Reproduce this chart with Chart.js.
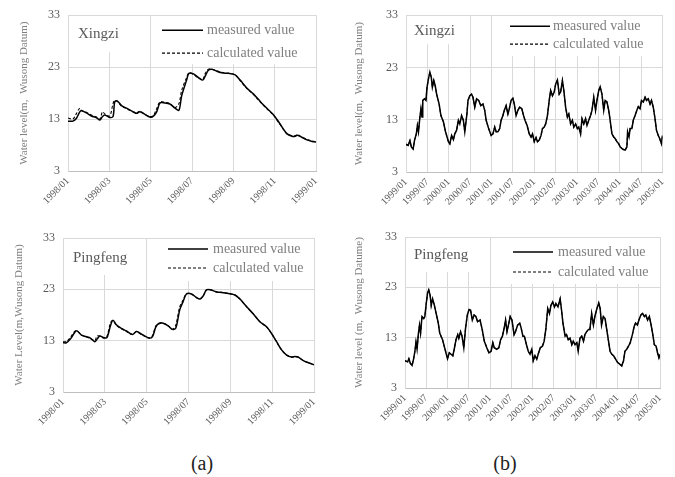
<!DOCTYPE html>
<html>
<head>
<meta charset="utf-8">
<script src="https://cdn.jsdelivr.net/npm/chart.js@4.4.1/dist/chart.umd.min.js"></script>
<style>
  body { margin: 0; background: #fff; width: 675px; height: 477px; position: relative; overflow: hidden; font-family: "Liberation Serif", serif; }
  canvas { position: absolute; }
  .cap { position: absolute; font-size: 20px; color: #222; transform: translate(-50%, -50%); }
</style>
</head>
<body>
<canvas id="xingzi98" width="330" height="218" style="left:0;top:0"></canvas>
<canvas id="xingziLong" width="340" height="218" style="left:335px;top:0"></canvas>
<canvas id="pingfeng98" width="330" height="218" style="left:0;top:220px"></canvas>
<canvas id="pingfengLong" width="340" height="218" style="left:335px;top:220px"></canvas>
<div class="cap" style="left:202px;top:463px">(a)</div>
<div class="cap" style="left:505px;top:463px">(b)</div>

<script>
// tick labels
const ticks98 = ['1998/01', '1998/03', '1998/05', '1998/07', '1998/09', '1998/11', '1999/01'];
const ticksLong = ['1999/01', '1999/07', '2000/01', '2000/07', '2001/01', '2001/07', '2002/01',
                   '2002/07', '2003/01', '2003/07', '2004/01', '2004/07', '2005/01'];
const yTicks = [3, 13, 23, 33];

// Xingzi 1998 (x = months since 1998/01)
const xingzi98Month = [0, 0.24, 0.4, 0.57, 0.65, 0.89, 1.13, 1.37, 1.54, 1.67,
  1.78, 2.02, 2.18, 2.26, 2.38, 2.59, 2.83, 3.15, 3.32, 3.48,
  3.72, 3.96, 4.12, 4.29, 4.45, 4.69, 4.93, 5.18, 5.37, 5.5,
  5.74, 5.85, 6.07, 6.31, 6.52, 6.63, 6.79, 6.95, 7.2, 7.44,
  7.76, 8.09, 8.33, 8.65, 8.98, 9.3, 9.62, 9.95, 10.27, 10.59,
  10.84, 11.0, 11.11, 11.32, 11.56, 11.81, 12];
const xingzi98Measured = [12.6, 12.6, 13.1, 14.4, 14.6, 14.2, 13.6, 13.3, 12.8, 13.5,
  13.8, 13.3, 13.5, 16.3, 16.5, 15.6, 15.1, 14.4, 14.1, 14.4,
  13.9, 13.4, 13.5, 14.4, 16.1, 16.1, 15.9, 15.1, 14.7, 17.5,
  20.5, 21.8, 21.7, 21.0, 20.5, 21.2, 22.4, 22.6, 22.2, 21.9,
  21.8, 21.5, 20.5, 19.0, 17.8, 16.4, 15.1, 13.8, 12.0, 10.2,
  9.7, 9.7, 9.9, 9.5, 9.0, 8.7, 8.6];
const xingzi98Calculated = [13.2, 13.0, 14.0, 15.1, 14.7, 14.3, 13.8, 13.4, 13.0, 14.4,
  14.0, 13.6, 16.0, 16.6, 16.4, 15.5, 15.0, 14.4, 14.2, 14.5,
  13.9, 13.5, 13.6, 15.0, 16.3, 16.2, 16.0, 15.2, 16.0, 18.5,
  21.0, 21.9, 21.6, 20.9, 20.6, 21.7, 22.6, 22.6, 22.3, 22.0,
  21.8, 21.5, 20.4, 18.9, 17.7, 16.3, 15.0, 13.7, 11.9, 10.2,
  9.8, 9.8, 10.0, 9.5, 9.1, 8.8, 8.6];

// Pingfeng 1998
const pingfeng98Month = [0, 0.16, 0.35, 0.56, 0.67, 0.88, 1.09, 1.31, 1.52, 1.63,
  1.76, 1.95, 2.1, 2.27, 2.39, 2.55, 2.79, 3.03, 3.32, 3.51,
  3.7, 3.91, 4.12, 4.28, 4.44, 4.6, 4.79, 5.03, 5.23, 5.39,
  5.58, 5.74, 5.9, 6.14, 6.38, 6.54, 6.7, 6.86, 7.05, 7.34,
  7.58, 7.9, 8.22, 8.46, 8.78, 9.1, 9.41, 9.73, 9.97, 10.21,
  10.45, 10.69, 10.93, 11.09, 11.25, 11.49, 11.73, 12];
const pingfeng98Measured = [12.6, 12.6, 13.3, 14.6, 14.9, 14.1, 13.8, 13.5, 12.8, 13.3,
  13.9, 13.6, 13.6, 15.9, 17.0, 16.1, 15.4, 14.9, 14.2, 14.8,
  14.4, 13.9, 13.5, 13.8, 15.7, 16.4, 16.4, 15.9, 15.2, 15.4,
  19.0, 20.6, 22.1, 22.1, 21.4, 21.1, 21.7, 22.9, 22.9, 22.5,
  22.4, 22.2, 21.9, 21.1, 19.6, 18.2, 16.7, 15.7, 14.4, 12.8,
  11.2, 10.2, 9.8, 9.9, 9.8, 9.1, 8.7, 8.3];
const pingfeng98Calculated = [12.8, 12.8, 13.6, 14.8, 14.9, 14.1, 13.8, 13.4, 13.0, 13.9,
  13.9, 13.5, 13.8, 16.5, 16.9, 16.0, 15.3, 14.8, 14.2, 14.8,
  14.3, 13.9, 13.5, 14.0, 15.9, 16.3, 16.4, 15.9, 15.2, 16.0,
  19.6, 20.9, 22.1, 22.1, 21.4, 21.1, 21.7, 22.9, 22.9, 22.5,
  22.4, 22.2, 21.9, 21.1, 19.6, 18.2, 16.7, 15.7, 14.4, 12.8,
  11.2, 10.2, 9.8, 9.9, 9.8, 9.1, 8.7, 8.3];

// Xingzi 1999-2004 (x = months since 1999/01)
const xingziLongMonth = [0, 0.6, 1.1, 1.5, 2.0, 2.4, 2.9, 3.2, 3.5, 3.9,
  4.2, 4.5, 4.7, 5.2, 5.6, 5.9, 6.3, 6.7, 7.1, 7.4,
  7.8, 8.2, 8.6, 9.3, 9.8, 10.5, 11.1, 11.9, 12.3, 12.8,
  13.3, 13.7, 14.2, 14.7, 15.1, 15.6, 16.1, 16.5, 17.1, 17.4,
  17.9, 18.4, 18.8, 19.3, 19.8, 20.4, 21.0, 21.6, 22.1, 22.5,
  23.2, 23.9, 24.4, 24.9, 25.3, 25.8, 26.3, 26.7, 27.2, 27.6,
  28.1, 28.6, 29.0, 29.5, 30.0, 30.4, 30.9, 31.4, 31.9, 32.5,
  33.0, 33.4, 34.0, 34.6, 35.1, 35.5, 36.0, 36.5, 36.9, 37.4,
  37.9, 38.3, 38.8, 39.2, 39.7, 40.2, 40.6, 41.1, 41.6, 42.0,
  42.5, 43.0, 43.4, 43.9, 44.3, 44.8, 45.3, 45.7, 46.2, 46.7,
  47.1, 47.6, 48.1, 48.5, 49.0, 49.4, 49.9, 50.4, 50.8, 51.3,
  51.8, 52.2, 52.7, 53.2, 53.6, 54.1, 54.5, 55.0, 55.5, 55.9,
  56.4, 56.9, 57.3, 57.8, 58.3, 58.7, 59.2, 59.7, 60.1, 60.6,
  61.0, 61.5, 62.0, 62.2, 62.6, 62.9, 63.4, 63.8, 64.3, 64.8,
  65.2, 65.7, 66.1, 66.6, 67.1, 67.5, 68.0, 68.5, 68.9, 69.4,
  69.9, 70.3, 70.8, 71.2, 71.7, 72.0];
const xingziLongMeasured = [8.3, 8.1, 9.0, 7.8, 7.4, 9.1, 10.3, 11.9, 10.7, 13.5,
  15.1, 13.5, 16.7, 17.0, 16.7, 19.2, 20.8, 22.1, 21.1, 19.2,
  20.5, 19.5, 17.9, 16.0, 13.8, 12.6, 10.7, 8.8, 8.4, 10.0,
  9.2, 10.3, 11.0, 12.9, 12.2, 13.8, 12.9, 10.7, 14.1, 16.7,
  17.6, 17.9, 17.3, 15.4, 17.0, 16.7, 15.7, 16.0, 14.8, 12.9,
  11.3, 10.0, 10.3, 11.6, 10.7, 10.7, 11.3, 12.9, 13.8, 14.8,
  15.7, 14.1, 15.1, 16.7, 17.1, 16.0, 13.8, 14.8, 15.4, 15.1,
  13.8, 12.9, 11.9, 10.3, 9.7, 10.3, 8.8, 9.6, 8.8, 9.1,
  10.0, 11.3, 11.6, 12.2, 13.8, 16.7, 18.6, 17.6, 18.3, 19.8,
  20.6, 17.9, 18.3, 20.5, 18.6, 15.4, 13.5, 14.1, 12.2, 12.9,
  11.6, 12.2, 11.3, 11.6, 10.3, 13.2, 12.2, 13.2, 11.9, 12.9,
  13.8, 14.8, 17.3, 14.8, 16.7, 18.6, 19.3, 17.9, 14.8, 16.7,
  16.4, 14.8, 12.9, 10.3, 9.7, 9.4, 8.8, 8.4, 7.8, 7.5,
  7.3, 7.2, 7.8, 10.7, 9.7, 11.3, 11.3, 12.9, 13.8, 14.8,
  15.5, 15.1, 16.7, 16.4, 17.3, 16.7, 17.0, 16.0, 16.7, 15.4,
  13.2, 11.0, 10.0, 9.4, 8.4, 10.0];
// dashed curve lies on top of the measured one in the picture
const xingziLongCalculated = xingziLongMeasured.slice();

// Pingfeng 1999-2004
const pingfengLongMonth = [0, 0.75, 1.1, 1.5, 2.0, 2.4, 2.8, 3.1, 3.4, 3.8,
  4.1, 4.4, 4.8, 5.3, 5.6, 6.0, 6.4, 6.7, 7.1, 7.4,
  7.8, 8.3, 8.8, 9.4, 9.8, 10.6, 11.3, 12.0, 12.5, 13.0,
  13.5, 13.9, 14.4, 14.9, 15.2, 15.7, 16.1, 16.6, 17.1, 17.6,
  18.1, 18.5, 19.0, 19.5, 20.0, 20.5, 21.2, 21.8, 22.4, 23.1,
  23.7, 24.3, 24.8, 25.2, 25.9, 26.5, 27.0, 27.5, 28.0, 28.4,
  28.8, 29.2, 29.7, 30.2, 30.8, 31.2, 31.8, 32.4, 32.8, 33.3,
  33.7, 34.3, 34.8, 35.3, 35.8, 36.2, 36.7, 37.2, 37.6, 38.2,
  38.8, 39.3, 39.8, 40.3, 40.8, 41.2, 41.7, 42.2, 42.6, 43.2,
  43.8, 44.2, 44.6, 45.2, 45.6, 46.1, 46.6, 47.1, 47.5, 48.0,
  48.5, 48.9, 49.4, 49.9, 50.4, 50.8, 51.3, 51.8, 52.2, 52.7,
  53.2, 53.6, 54.2, 54.7, 55.1, 55.5, 56.0, 56.5, 56.9, 57.4,
  57.9, 58.4, 58.9, 59.5, 60.0, 60.7, 61.2, 61.7, 62.1, 62.6,
  63.1, 63.6, 64.2, 64.7, 65.1, 65.6, 66.2, 66.6, 67.1, 67.6,
  68.0, 68.5, 69.0, 69.5, 69.9, 70.4, 70.9, 71.3, 71.7, 72];
const pingfengLongMeasured = [8.4, 8.2, 8.8, 7.9, 7.5, 8.7, 10.3, 12.1, 10.7, 13.9,
  15.5, 13.9, 17.2, 16.8, 17.2, 19.8, 22.0, 22.5, 21.4, 19.4,
  20.7, 19.4, 17.8, 15.9, 13.9, 12.6, 10.7, 8.8, 10.0, 9.7,
  9.4, 10.7, 12.6, 13.6, 12.9, 14.2, 13.3, 11.0, 14.9, 17.5,
  18.6, 18.5, 16.5, 17.5, 17.2, 16.2, 16.5, 14.6, 12.3, 11.0,
  10.0, 10.3, 12.0, 11.0, 10.7, 11.0, 12.6, 13.3, 14.9, 16.5,
  14.2, 15.5, 17.2, 16.5, 13.6, 14.2, 15.5, 15.9, 14.9, 13.3,
  13.3, 11.6, 10.3, 9.7, 10.7, 8.4, 9.4, 8.7, 9.7, 11.0,
  11.3, 12.3, 14.9, 18.8, 17.8, 19.4, 20.1, 19.1, 19.8, 19.1,
  20.7, 18.5, 15.9, 13.3, 13.6, 12.6, 12.9, 11.6, 12.3, 11.6,
  12.0, 10.3, 12.9, 13.3, 12.3, 13.6, 14.2, 14.6, 14.6, 17.8,
  15.5, 17.2, 18.8, 19.9, 18.8, 15.5, 17.2, 16.8, 14.9, 12.6,
  10.3, 9.7, 9.4, 8.7, 8.1, 7.7, 7.4, 8.4, 10.3, 10.7,
  11.3, 12.0, 13.6, 15.2, 15.9, 15.5, 16.8, 17.5, 17.8, 17.2,
  17.5, 16.5, 17.2, 15.5, 13.9, 11.6, 11.3, 10.0, 9.0, 9.7];
const pingfengLongCalculated = pingfengLongMeasured.slice();

const FONT = '"Liberation Serif", "Times New Roman", serif';

function pts(xs, ys) {
    return xs.map((x, i) => ({ x: x, y: ys[i] }));
}

// station name + legend drawn inside the plot, on white boxes over the grid
const panelLabels = {
    id: 'panelLabels',
    beforeDatasetsDraw(chart, args, o) {
        const ctx = chart.ctx;
        const a = chart.chartArea;
        ctx.save();
        ctx.fillStyle = '#fff';
        o.masks.forEach(m => ctx.fillRect(a.left + m[0], a.top + m[1], m[2], m[3]));
        ctx.textBaseline = 'middle';
        ctx.fillStyle = '#595959';
        ctx.font = '15px ' + FONT;
        ctx.fillText(o.name, a.left + o.nameX, a.top + o.nameY);
        ctx.font = '14px ' + FONT;
        ctx.fillStyle = '#7f7f7f';
        const rows = [['measured value', []], ['calculated value', [3, 2]]];
        rows.forEach((r, i) => {
            const y = a.top + o.rowY[i];
            ctx.strokeStyle = '#000';
            ctx.lineWidth = i === 0 ? 1.5 : 1.2;
            ctx.setLineDash(r[1]);
            ctx.beginPath();
            ctx.moveTo(a.left + o.lineX[0], y);
            ctx.lineTo(a.left + o.lineX[1], y);
            ctx.stroke();
            ctx.setLineDash([]);
            ctx.fillText(r[0], a.left + o.textX, y);
        });
        ctx.restore();
    }
};

function makeChart(id, c) {
    new Chart(document.getElementById(id), {
        type: 'line',
        data: {
            datasets: [{
                label: 'measured value',
                data: pts(c.months, c.measured),
                borderColor: '#000',
                borderWidth: 1.5,
                pointRadius: 0,
                tension: c.tension
            }, {
                label: 'calculated value',
                data: pts(c.months, c.calculated),
                borderColor: '#000',
                borderWidth: 1.1,
                borderDash: [3, 2],
                pointRadius: 0,
                tension: c.tension
            }]
        },
        options: {
            responsive: false,
            animation: false,
            layout: { padding: c.padding },
            plugins: {
                legend: { display: false },
                tooltip: { enabled: false },
                panelLabels: c.labels
            },
            scales: {
                x: {
                    type: 'linear',
                    min: 0,
                    max: c.xMax,
                    afterBuildTicks: s => { s.ticks = c.tickLabels.map((t, i) => ({ value: i * c.step })); },
                    afterFit: s => { s.height = c.xHeight; },
                    grid: { color: '#d9d9d9', drawTicks: false },
                    border: { color: '#bfbfbf' },
                    ticks: {
                        autoSkip: false,
                        minRotation: 45,
                        maxRotation: 45,
                        padding: 4,
                        color: '#595959',
                        font: { family: FONT, size: 10 },
                        callback: (v, i) => c.tickLabels[i]
                    }
                },
                y: {
                    min: 3,
                    max: 33,
                    afterBuildTicks: s => { s.ticks = yTicks.map(v => ({ value: v })); },
                    afterFit: s => { s.width = c.yWidth; },
                    grid: { color: '#d9d9d9', drawTicks: false },
                    border: { color: '#d9d9d9' },
                    ticks: {
                        padding: 8,
                        color: '#595959',
                        font: { family: FONT, size: 12 }
                    },
                    title: {
                        display: true,
                        text: c.yTitle,
                        color: '#808080',
                        padding: 0,
                        font: { family: FONT, size: 11 }
                    }
                }
            }
        },
        plugins: [panelLabels]
    });
}

makeChart('xingzi98', {
    months: xingzi98Month, measured: xingzi98Measured, calculated: xingzi98Calculated,
    tension: 0.3, xMax: 12, step: 2, tickLabels: ticks98,
    padding: { left: 18, top: 10, right: 14, bottom: 0 }, yWidth: 50, xHeight: 47,
    yTitle: 'Water level(m,  Wusong Datum)',
    labels: { name: 'Xingzi', nameX: 10, nameY: 19, lineX: [94, 135], textX: 139, rowY: [15, 38],
              masks: [[1, 1, 62, 36], [90, 1, 156, 48]] }
});

makeChart('xingziLong', {
    months: xingziLongMonth, measured: xingziLongMeasured, calculated: xingziLongCalculated,
    tension: 0, xMax: 72, step: 6, tickLabels: ticksLong,
    padding: { left: 18, top: 14, right: 11, bottom: 0 }, yWidth: 53, xHeight: 46,
    yTitle: 'Water level(m,  Wusong Datum)',
    labels: { name: 'Xingzi', nameX: 8, nameY: 16, lineX: [104, 144], textX: 147, rowY: [11, 29],
              masks: [[1, 1, 46, 28], [96, 1, 160, 40]] }
});

makeChart('pingfeng98', {
    months: pingfeng98Month, measured: pingfeng98Measured, calculated: pingfeng98Calculated,
    tension: 0.3, xMax: 12, step: 2, tickLabels: ticks98,
    padding: { left: 13, top: 18, right: 16, bottom: 0 }, yWidth: 50, xHeight: 46,
    yTitle: 'Water Level(m,Wusong Datum)',
    labels: { name: 'Pingfeng', nameX: 10, nameY: 20, lineX: [105, 145], textX: 150, rowY: [11, 30],
              masks: [[1, 1, 70, 36], [98, 1, 151, 42]] }
});

makeChart('pingfengLong', {
    months: pingfengLongMonth, measured: pingfengLongMeasured, calculated: pingfengLongCalculated,
    tension: 0, xMax: 72, step: 6, tickLabels: ticksLong,
    padding: { left: 18, top: 17, right: 15, bottom: 0 }, yWidth: 52, xHeight: 50,
    yTitle: 'Water level (m,  Wusong Datume)',
    labels: { name: 'Pingfeng', nameX: 9, nameY: 18, lineX: [108, 148], textX: 153, rowY: [15, 35],
              masks: [[1, 1, 68, 34], [100, 1, 153, 46]] }
});
</script>
</body>
</html>
